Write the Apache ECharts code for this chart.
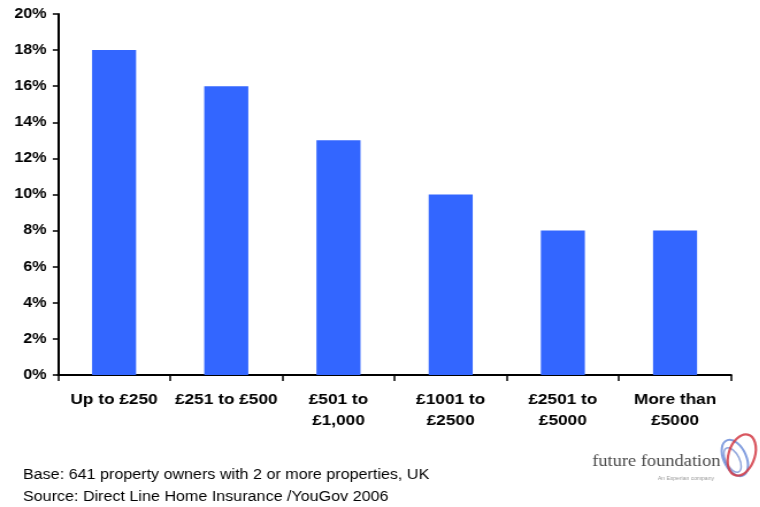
<!DOCTYPE html>
<html>
<head>
<meta charset="utf-8">
<script src="https://cdn.jsdelivr.net/npm/echarts@6/dist/echarts.min.js"></script>
<style>
  html, body { margin: 0; padding: 0; background: #fff; overflow: hidden; }
  #frame { width: 760px; height: 507px; overflow: hidden; }
  /* the slide is drawn slightly narrow and widened to fill the frame */
  #chart { width: 661px; height: 507px; transform: scaleX(1.15); transform-origin: 0 0; }
</style>
</head>
<body>
<div id="frame"><div id="chart"></div></div>
<script>
// Share of owners by spend band
const categories = ['Up to £250', '£251 to £500', '£501 to\n£1,000', '£1001 to\n£2500', '£2501 to\n£5000', 'More than\n£5000'];
const shares = [18, 16, 13, 10, 8, 8];
const footnotes = [
  'Base: 641 property owners with 2 or more properties, UK',
  'Source: Direct Line Home Insurance /YouGov 2006'
];

const chart = echarts.init(document.getElementById('chart'));
const font = 'Arial, "Liberation Sans", sans-serif';

chart.setOption({
  animation: false,
  grid: { left: 50.4, right: 25.2, top: 14, bottom: 132 },
  xAxis: {
    type: 'category',
    data: categories,
    axisLine: { lineStyle: { color: '#000', width: 2 } },
    axisTick: { show: true, length: 6, lineStyle: { color: '#000', width: 1.5 } },
    axisLabel: {
      color: '#000', fontFamily: font, fontWeight: 'bold', fontSize: 15,
      lineHeight: 21, margin: 14, interval: 0
    }
  },
  yAxis: {
    type: 'value',
    min: 0, max: 20, interval: 2,
    splitLine: { show: false },
    axisLine: { show: true, lineStyle: { color: '#000', width: 2 } },
    axisTick: { show: true, length: 4.5, lineStyle: { color: '#000', width: 1.5 } },
    axisLabel: {
      color: '#000', fontFamily: font, fontWeight: 'bold', fontSize: 14,
      margin: 10, formatter: '{value}%'
    }
  },
  series: [{
    type: 'bar',
    data: shares,
    barWidth: 38.3,
    itemStyle: { color: '#3366FF' }
  }],
  graphic: [
    {
      type: 'text', left: 20, top: 468,
      style: { text: footnotes[0], font: '14px ' + font, fill: '#000' }
    },
    {
      type: 'text', left: 20, top: 490,
      style: { text: footnotes[1], font: '14px ' + font, fill: '#000' }
    },
    {
      type: 'text', left: 515, top: 454,
      style: { text: 'future foundation', font: '16px "Liberation Serif", "DejaVu Serif", serif', fill: '#4a4a4a' }
    },
    {
      type: 'text', left: 572, top: 476,
      style: { text: 'An Experian company', font: '5px ' + font, fill: '#999' }
    },
    {
      type: 'ellipse', shape: { cx: 639, cy: 458, rx: 10, ry: 19 }, rotation: 0.35, originX: 639, originY: 458,
      style: { fill: 'none', stroke: '#5b7fd4', lineWidth: 2, opacity: 0.75 }
    },
    {
      type: 'ellipse', shape: { cx: 637, cy: 460, rx: 6, ry: 13 }, rotation: 0.4, originX: 637, originY: 460,
      style: { fill: 'none', stroke: '#3a5fc0', lineWidth: 1.5, opacity: 0.55 }
    },
    {
      type: 'ellipse', shape: { cx: 645, cy: 455, rx: 11.5, ry: 21 }, rotation: -0.25, originX: 645, originY: 455,
      style: { fill: 'none', stroke: '#d23a44', lineWidth: 2.2, opacity: 0.85 }
    }
  ]
});
</script>
</body>
</html>
